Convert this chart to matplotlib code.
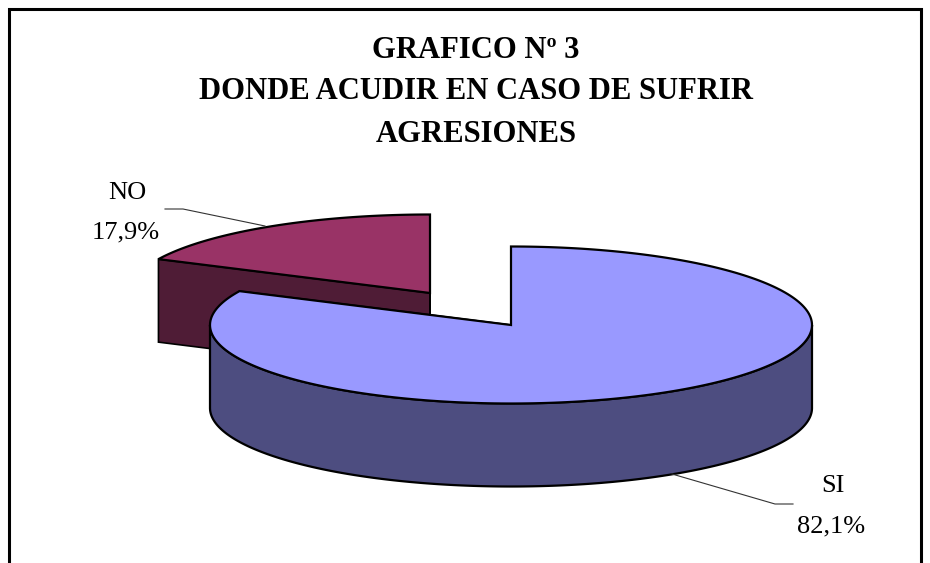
import numpy as np
import matplotlib
matplotlib.use('Agg')
import matplotlib.pyplot as plt

plt.rcParams['font.family'] = ['Liberation Serif', 'DejaVu Serif']

# Data
categories = ['SI', 'NO']
shares = [82.1, 17.9]
share_labels = ['82,1%', '17,9%']
title_lines = ['GRAFICO Nº 3', 'DONDE ACUDIR EN CASO DE SUFRIR', 'AGRESIONES']

fig = plt.figure(figsize=(9.3, 5.63), dpi=100)
ax = fig.add_axes([0, 0, 1, 1])
# axes work in picture pixels, y going down
ax.set_xlim(0, 930)
ax.set_ylim(563, 0)
ax.axis('off')

rx, ry, depth = 301, 78.5, 83


def rim(cx, cy, a0, a1):
    # angles in degrees clockwise from 12 o'clock
    t = np.radians(np.linspace(a0, a1, 240))
    return cx + rx * np.sin(t), cy - ry * np.cos(t)


def draw_slice(cx, cy, a0, a1, top_col, side_col, zo):
    # cut faces first
    for a in (a0, a1):
        ex, ey = rim(cx, cy, a, a)
        ax.fill([cx, ex[0], ex[0], cx], [cy, ey[0], ey[0] + depth, cy + depth],
                facecolor=side_col, edgecolor='black', lw=1.2, zorder=zo)
    # outer wall, only the part facing the viewer
    s0, s1 = max(a0, 90), min(a1, 270)
    if s1 > s0:
        wx, wy = rim(cx, cy, s0, s1)
        ax.fill(np.r_[wx, wx[::-1]], np.r_[wy, wy[::-1] + depth],
                facecolor=side_col, edgecolor='black', lw=1.6, zorder=zo + 1)
    # top face
    tx, ty = rim(cx, cy, a0, a1)
    ax.fill(np.r_[cx, tx], np.r_[cy, ty],
            facecolor=top_col, edgecolor='black', lw=1.6, zorder=zo + 2)


angle_si = shares[0] / sum(shares) * 360

# NO slice is pulled out to the upper left, drawn behind
draw_slice(430, 293, angle_si, 360, '#993366', '#4F1C36', 2)
draw_slice(511, 325, 0, angle_si, '#9999FF', '#4D4D80', 5)

# frame, open at the bottom edge
ax.plot([9, 9, 921, 921], [563, 9, 9, 563], color='black', lw=2.2,
        solid_joinstyle='miter', zorder=1)

# leader lines
ax.plot([165, 183, 265], [209, 209, 226], color='#333333', lw=0.8, zorder=9)
ax.plot([672, 775, 793], [474, 504, 504], color='#333333', lw=0.8, zorder=9)

# title
for line, y in zip(title_lines, [50.5, 91.5, 134.5]):
    ax.text(476, y, line, ha='center', va='center', fontsize=22.1,
            fontweight='bold', color='black')

# data labels
ax.text(127, 193, categories[1], ha='center', va='center', fontsize=19)
ax.text(126, 232, share_labels[1], ha='center', va='center', fontsize=19)
ax.text(833, 486, categories[0], ha='center', va='center', fontsize=19)
ax.text(831, 526, share_labels[0], ha='center', va='center', fontsize=19)

fig.savefig('out.png', dpi=100)
